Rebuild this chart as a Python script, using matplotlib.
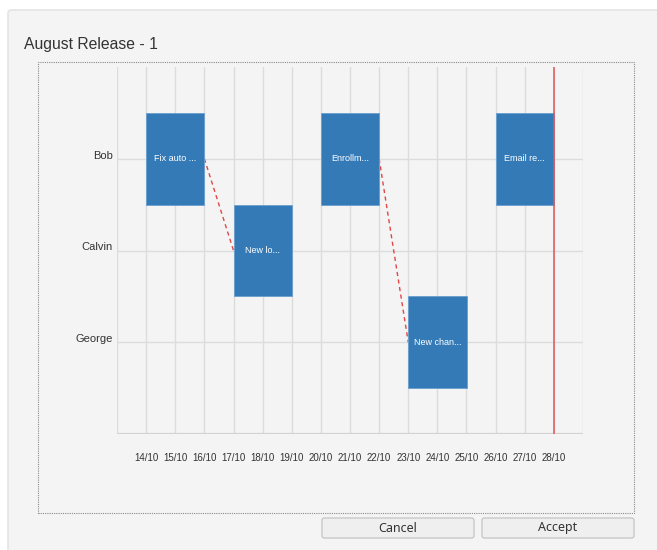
import matplotlib.pyplot as plt
from matplotlib.patches import FancyBboxPatch, Rectangle
from matplotlib.transforms import blended_transform_factory

# ----------------------------------------------------------------------
# data
# ----------------------------------------------------------------------
people = ["Bob", "Calvin", "George"]
task_names = ["Fix auto ...", "New lo...", "Enrollm...", "New chan...", "Email re..."]
task_owner = ["Bob", "Calvin", "Bob", "George", "Bob"]
task_start = [14, 17, 20, 23, 26]      # day of October
task_end = [16, 19, 22, 25, 28]
links = [(0, 1), (2, 3)]               # dependency arrows (from task, to task)
today = 28
day_labels = [f"{d}/10" for d in range(14, 29)]
title = "August Release - 1"

W, H = 657, 550
fig = plt.figure(figsize=(W / 100, H / 100), dpi=100)
fig.patch.set_facecolor("white")

def px(x0, y0, x1, y1):
    # pixel box (top-left origin) -> figure fraction [l, b, w, h]
    return [x0 / W, 1 - y1 / H, (x1 - x0) / W, (y1 - y0) / H]

# dialog panel
l, b, w, h = px(8, 10, 672, 570)
fig.patches.append(FancyBboxPatch((l, b), w, h, boxstyle="round,pad=0,rounding_size=0.006",
                                  transform=fig.transFigure, facecolor="#f4f4f4",
                                  edgecolor="#e4e4e4", linewidth=1.2, zorder=-5))

# dotted chart frame
l, b, w, h = px(38, 62, 634, 513)
fig.patches.append(Rectangle((l, b), w, h, transform=fig.transFigure, fill=False,
                             edgecolor="#8a8a8a", linestyle=(0, (1, 1)), linewidth=0.8, zorder=-4))

fig.text(24 / W, 1 - 44 / H, title, fontsize=11.3, family="Liberation Sans",
         color="#333333", ha="left", va="center")

# buttons
for label, (x0, x1) in zip(["Cancel", "Accept"], [(322, 474), (482, 634)]):
    l, b, w, h = px(x0, 518, x1, 538)
    fig.patches.append(FancyBboxPatch((l, b), w, h, boxstyle="round,pad=0,rounding_size=0.004",
                                      transform=fig.transFigure, facecolor="#efefef",
                                      edgecolor="#c4c4c4", linewidth=0.9, zorder=-4))
    fig.text(l + w / 2, b + h / 2, label, fontsize=9, family="Noto Sans",
             color="#333333", ha="center", va="center")

# ----------------------------------------------------------------------
# gantt axes
# ----------------------------------------------------------------------
ax = fig.add_axes(px(117, 67, 583, 434))
ax.set_facecolor("none")
ax.set_xlim(13, 29)
ax.set_ylim(3, -1)
for s in ax.spines.values():
    s.set_visible(False)

for d in range(13, 30):
    ax.axvline(d, color="#dcdcdc", linewidth=1, zorder=1)
for i in range(len(people)):
    ax.axhline(i, color="#dcdcdc", linewidth=1, zorder=1)
ax.axhline(3, color="#d2d2d2", linewidth=1.6, zorder=1)

ax.set_xticks(range(14, 29))
ax.set_xticklabels(day_labels, fontsize=7, family="Liberation Sans", color="#333333")
ax.tick_params(axis="x", length=0, pad=14)
ax.set_yticks([])

trans = blended_transform_factory(ax.transAxes, ax.transData)
for i, name in enumerate(people):
    ax.text(-4 / 466, i, name, transform=trans, ha="right", va="baseline",
            fontsize=8, family="Liberation Sans", color="#333333")

rows = {p: i for i, p in enumerate(people)}
for name, owner, s, e in zip(task_names, task_owner, task_start, task_end):
    y = rows[owner]
    ax.barh(y, e - s, left=s, height=1.0, color="#337ab7", edgecolor="#6a9fd0",
            linewidth=0.6, zorder=3)
    ax.text((s + e) / 2, y, name, ha="center", va="center", color="white",
            fontsize=6.5, family="Liberation Sans", zorder=4)

for a, c in links:
    ax.plot([task_end[a], task_start[c]], [rows[task_owner[a]], rows[task_owner[c]]],
            color="#e04848", linestyle=(0, (3, 2.5)), linewidth=1, zorder=2)

ax.axvline(today, color="#e05555", linewidth=1.1, zorder=5)

fig.savefig("out.png", dpi=100)
